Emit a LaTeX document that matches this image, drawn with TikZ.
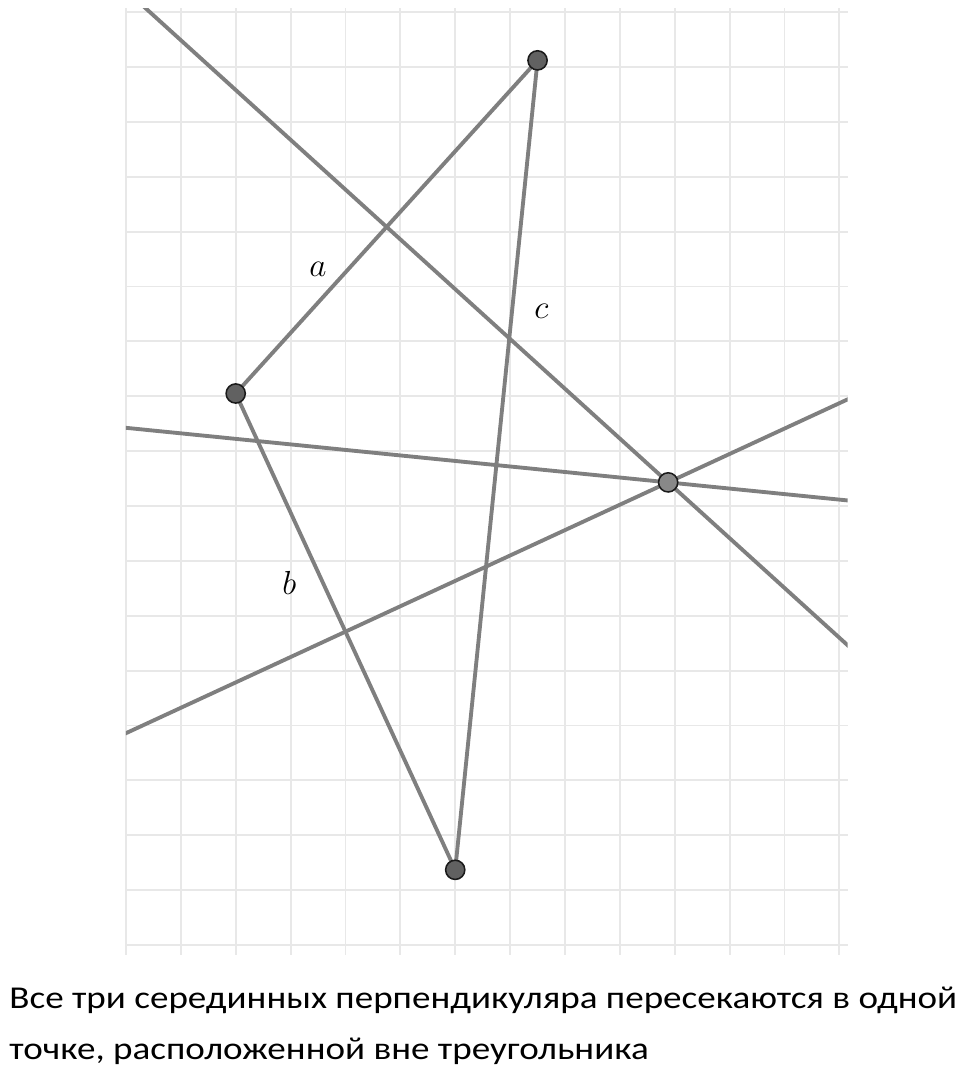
\documentclass[tikz,border=0pt]{standalone}
\usepackage{fontspec}
\setmainfont{Carlito}
\newfontfamily\capfont[FakeStretch=1.165]{Carlito}
\usepackage{tikz}
\usetikzlibrary{calc}
\definecolor{gridgray}{HTML}{E8E8E8}
\definecolor{linegray}{HTML}{7F7F7F}
\definecolor{dotdark}{HTML}{616161}
\definecolor{dotlight}{HTML}{888888}
\definecolor{dotrim}{HTML}{1A1A1A}

\begin{document}
\begin{tikzpicture}[
    gridline/.style={draw=gridgray, line width=1pt},
    seg/.style={draw=linegray, line width=2pt},
    vertex/.style={circle, fill=dotdark, draw=dotrim, line width=0.8pt, minimum size=0.35cm, inner sep=0pt},
    center/.style={circle, fill=dotlight, draw=dotrim, line width=0.8pt, minimum size=0.35cm, inner sep=0pt},
    sidelabel/.style={font=\fontsize{18}{20}\selectfont},
    caption/.style={anchor=base west, inner sep=0pt, font=\capfont\fontsize{16.5}{20}\selectfont}
  ]
      \useasboundingbox (-2.295,-2.66) rectangle (15.19,17.22);

      % Grid
      \foreach \x in {0,...,13} \draw[gridline] (\x,-0.18) -- (\x,17.07);
      \foreach \y in {0,...,17} \draw[gridline] (0,\y) -- (13.15,\y);

      % Points
      \coordinate (A) at (7.5,16.12);
      \coordinate (B) at (2,10.05);
      \coordinate (C) at (6,1.37);
      \coordinate (O) at (9.88,8.43);
      \coordinate (Mab) at ($(A)!0.5!(B)$);
      \coordinate (Mbc) at ($(B)!0.5!(C)$);
      \coordinate (Mac) at ($(A)!0.5!(C)$);

      % Perpendicular bisectors
      \begin{scope}
        \clip (0,-0.18) rectangle (13.15,17.07);
        \draw[seg] ($(Mab)!-6!(O)$) -- ($(Mab)!6!(O)$);
        \draw[seg] ($(Mbc)!-6!(O)$) -- ($(Mbc)!6!(O)$);
        \draw[seg] ($(Mac)!-6!(O)$) -- ($(Mac)!6!(O)$);
      \end{scope}

      % Triangle
      \draw[seg] (A) -- (B) -- (C) -- cycle;

      % Dots
      \node[vertex] (dA) at (A) {};
      \node[vertex] (dB) at (B) {};
      \node[vertex] (dC) at (C) {};
      \node[center] (dO) at (O) {};

      % Side labels
      \node[sidelabel] (la) at (3.5,12.31) {$a$};
      \node[sidelabel] (lb) at (2.975,6.59) {$b$};
      \node[sidelabel] (lc) at (7.57,11.54) {$c$};

      % Caption
      \node[caption] (cap1) at (-2.13,-1.148) {Все три серединных перпендикуляра пересекаются в одной};
      \node[caption] (cap2) at (-2.13,-2.095) {точке, расположенной вне треугольника};
    \end{tikzpicture}
\end{document}
